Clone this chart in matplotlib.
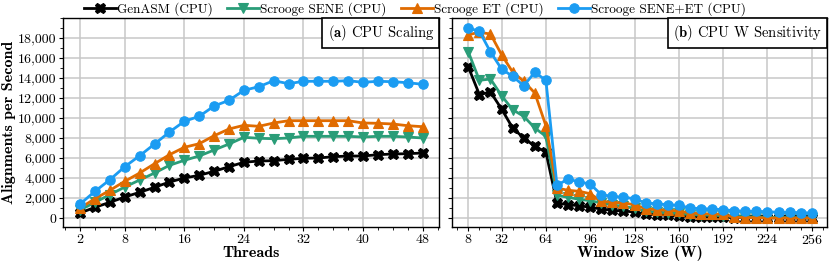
# CPU scaling and window-size sensitivity for GenASM vs Scrooge variants
import numpy as np
import matplotlib
matplotlib.use('Agg')
import matplotlib.pyplot as plt
from matplotlib.ticker import FuncFormatter, MultipleLocator

plt.rcParams['font.family'] = ['cmr10', 'DejaVu Serif']
plt.rcParams['mathtext.fontset'] = 'cm'
plt.rcParams['axes.formatter.use_mathtext'] = True

labels = ['GenASM (CPU)', 'Scrooge SENE (CPU)', 'Scrooge ET (CPU)', 'Scrooge SENE+ET (CPU)']
colours = ['black', '#2a9d78', '#e06b00', '#1b9cf2']
markers = ['X', 'v', '^', 'o']

threads = list(range(2, 49, 2))
scal_genasm = [500, 1070, 1570, 2100, 2570, 3070, 3600, 4000, 4270, 4670, 5130, 5570,
               5700, 5730, 5870, 5970, 6000, 6130, 6200, 6200, 6330, 6400, 6430, 6500]
scal_sene = [800, 1570, 2330, 3100, 3800, 4500, 5270, 5770, 6200, 6800, 7400, 8070,
             7970, 7930, 8000, 8170, 8170, 8170, 8170, 8100, 8170, 8170, 8100, 8000]
scal_et = [1000, 1930, 2770, 3670, 4500, 5430, 6330, 7070, 7430, 8230, 8900, 9270,
           9170, 9500, 9730, 9730, 9730, 9730, 9730, 9500, 9470, 9400, 9230, 9130]
scal_both = [1400, 2670, 3830, 5130, 6230, 7400, 8600, 9670, 10170, 11200, 11770, 12770,
             13130, 13730, 13430, 13670, 13670, 13670, 13730, 13570, 13670, 13630, 13530, 13370]

window = list(range(8, 257, 8))
w_genasm = [15100, 12330, 12600, 10900, 9000, 8000, 7170, 6600, 1500, 1330, 1230, 1070,
            900, 770, 700, 600, 370, 330, 270, 200, 130, 110, 90, 70,
            50, 40, 30, 20, 10, 10, 0, 0]
w_sene = [16600, 13770, 13900, 12230, 10830, 10170, 9000, 8170, 2270, 2070, 1870, 1730,
          1500, 1300, 1170, 970, 670, 600, 500, 470, 330, 300, 270, 230,
          170, 130, 100, 80, 60, 40, 20, 0]
w_et = [18330, 18570, 18400, 16330, 14600, 13670, 12500, 9230, 3000, 2770, 2670, 2430,
        1670, 1570, 1500, 1330, 930, 830, 770, 700, 500, 430, 400, 370,
        70, 40, 40, 0, 0, 0, 0, 0]
w_both = [19000, 18670, 16600, 14900, 14170, 13230, 14570, 13770, 3270, 3900, 3600, 3400,
          2330, 2170, 2070, 1930, 1500, 1430, 1330, 1270, 1000, 930, 900, 830,
          730, 670, 670, 630, 570, 570, 530, 500]

fig = plt.figure(figsize=(8.3, 2.63), dpi=100)
ax1 = fig.add_axes([63/830, 36/263, 376/830, 209/263])
ax2 = fig.add_axes([452/830, 36/263, 375/830, 209/263], sharey=ax1)

def draw(ax, x, series):
	handles = []
	for ys, c, m in zip(series, colours, markers):
		ms = 7.5 if m == 'X' else 6.8
		h, = ax.plot(x, ys, color=c, marker=m, markersize=ms, linewidth=2,
			markeredgecolor=c, markeredgewidth=0.8)
		handles.append(h)
	ax.grid(True, color='#c8c8c8', linewidth=1.1)
	ax.set_axisbelow(True)
	ax.tick_params(labelsize=10, length=3, width=0.8, pad=2, direction='out')
	ax.tick_params(axis='x', pad=1)
	ax.tick_params(which='minor', length=2, width=0.6)
	for s in ax.spines.values():
		s.set_linewidth(1)
	return handles

hs = draw(ax1, threads, [scal_genasm, scal_sene, scal_et, scal_both])
draw(ax2, window, [w_genasm, w_sene, w_et, w_both])

ax1.set_xlim(-0.3, 50.2)
ax1.set_xticks([2, 8, 16, 24, 32, 40, 48])
ax1.xaxis.set_minor_locator(MultipleLocator(2))
ax1.set_ylim(-900, 20000)
ax1.set_yticks(np.arange(0, 18001, 2000))
ax1.yaxis.set_minor_locator(MultipleLocator(1000))
ax1.yaxis.set_major_formatter(FuncFormatter(lambda v, p: f'{v:,.0f}'))
ax1.set_xlabel('Threads', fontfamily='cmb10', fontsize=11.5)
ax1.set_ylabel('Alignments per Second', fontfamily='cmb10', fontsize=11.5)

ax2.set_xlim(-3.8, 267)
ax2.set_xticks([8, 32, 64, 96, 128, 160, 192, 224, 256])
ax2.xaxis.set_minor_locator(MultipleLocator(8))
ax2.tick_params(labelleft=False)
ax2.set_xlabel('Window Size (W)', fontfamily='cmb10', fontsize=11.5)

for ax in (ax1, ax2):
	ax.xaxis.set_label_coords(0.5, -(257 - 227) / 209)
	ax.xaxis.label.set_va('baseline')
ax1.yaxis.set_label_coords((9 - 63) / 376, 0.5)
ax1.yaxis.label.set_va('center')

box = dict(boxstyle='square,pad=0.35', facecolor='white', edgecolor='black', linewidth=1.2)
ax1.text(0.987, 0.975, r'$\mathbf{(a)}$ CPU Scaling', transform=ax1.transAxes,
	ha='right', va='top', fontsize=10.5, bbox=box)
ax2.text(0.987, 0.975, r'$\mathbf{(b)}$ CPU W Sensitivity', transform=ax2.transAxes,
	ha='right', va='top', fontsize=10.5, bbox=box)

fig.legend(hs, labels, loc='center', bbox_to_anchor=(0.5, 0.965), ncol=4, frameon=False,
	fontsize=9.5, handlelength=2.4, handletextpad=0.1, columnspacing=1.1, borderpad=0)

fig.savefig('out.png', dpi=100)
